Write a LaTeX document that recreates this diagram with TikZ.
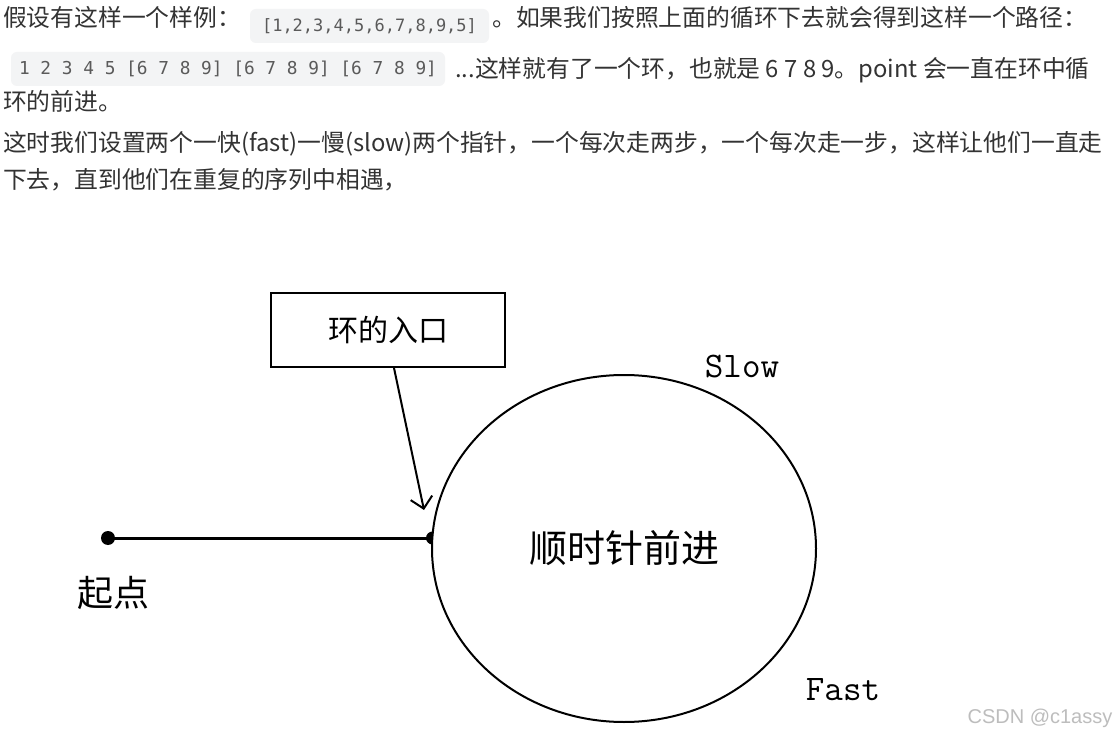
\documentclass[tikz,border=0pt]{standalone}
\usepackage{fontspec}
\usetikzlibrary{arrows.meta,shapes.geometric}
\newfontfamily\cjk{Noto Sans CJK SC}
\newfontfamily\codefont{DejaVu Sans Mono}
\newfontfamily\wmfont{Liberation Sans}
\definecolor{bodytext}{HTML}{333333}
\definecolor{codebg}{HTML}{F3F4F5}
\definecolor{codetext}{HTML}{5A5A5A}
\definecolor{wmgray}{HTML}{BDBDBD}
\tikzset{
  bodyline/.style={anchor=base west, inner sep=0pt, text=bodytext, font=\cjk\fontsize{23.8}{28}\selectfont},
  codebox/.style={rounded corners=6pt, fill=codebg, text=codetext, inner sep=0pt,
    minimum height=34pt, font=\codefont\fontsize{17}{20}\selectfont},
  framebox/.style={draw=black, line width=2pt, inner sep=0pt, minimum width=234pt, minimum height=74pt,
    font=\cjk\fontsize{30}{34}\selectfont},
  loopnode/.style={draw=black, line width=2pt, ellipse, inner sep=0pt, minimum width=384pt, minimum height=347pt,
    font=\cjk\fontsize{38}{42}\selectfont},
  dotnode/.style={circle, fill=black, inner sep=0pt, minimum size=14pt},
  biglabel/.style={inner sep=0pt, font=\cjk\fontsize{36}{40}\selectfont},
  ptrlabel/.style={inner sep=0pt, font=\ttfamily\fontsize{36}{40}\selectfont},
  conn/.style={draw=black, line width=2pt},
  arrowconn/.style={conn, -{Straight Barb[length=11pt,width=22pt,line width=2pt]}},
  watermark/.style={inner sep=0pt, text=wmgray, font=\wmfont\fontsize{20}{24}\selectfont}
}
\begin{document}
\begin{tikzpicture}[x=1pt,y=-1pt]
\useasboundingbox[fill=white] (0,0) rectangle (1120,738);

% --- text paragraph ---
\node[bodyline] (t1a) at (3,27) {假设有这样一个样例：};
\node[codebox, minimum width=239pt] (c1) at (369.5,26) {[1,2,3,4,5,6,7,8,9,5]};
\node[bodyline] (t1b) at (492,27) {。如果我们按照上面的循环下去就会得到这样一个路径：};
\node[codebox, minimum width=434pt, font=\codefont\fontsize{17.8}{20}\selectfont] (c2) at (228,69) {1 2 3 4 5 [6 7 8 9] [6 7 8 9] [6 7 8 9]};
\node[bodyline] (t2b) at (455,78) {...这样就有了一个环，也就是 6 7 8 9。point 会一直在环中循};
\node[bodyline] (t3) at (3,111) {环的前进。};
\node[bodyline] (t4) at (3,152) {这时我们设置两个一快(fast)一慢(slow)两个指针，一个每次走两步，一个每次走一步，这样让他们一直走};
\node[bodyline] (t5) at (3,189) {下去，直到他们在重复的序列中相遇，};

% --- diagram ---
\node[framebox] (entrybox) at (388,330) {环的入口};
\node[loopnode] (loop) at (624,548.5) {顺时针前进};
\node[dotnode] (start) at (108,538) {};
\coordinate (entry) at (432.5,538);
\coordinate (arrowtip) at (424,510);

\draw[conn, line width=3pt] (start.center) -- (entry);
\fill (entry) ++(0pt,-6.5pt) arc[start angle=-90, end angle=-270, radius=6.5pt] -- cycle;
\draw[arrowconn] ([xshift=6pt]entrybox.south) -- (arrowtip);

\node[biglabel] (startlabel) at (113,593) {起点};
\node[ptrlabel] (slow) at (742,367) {Slow};
\node[ptrlabel] (fast) at (843,690) {Fast};
\node[watermark] (wm) at (1040,718) {CSDN @c1assy};
\end{tikzpicture}
\end{document}
